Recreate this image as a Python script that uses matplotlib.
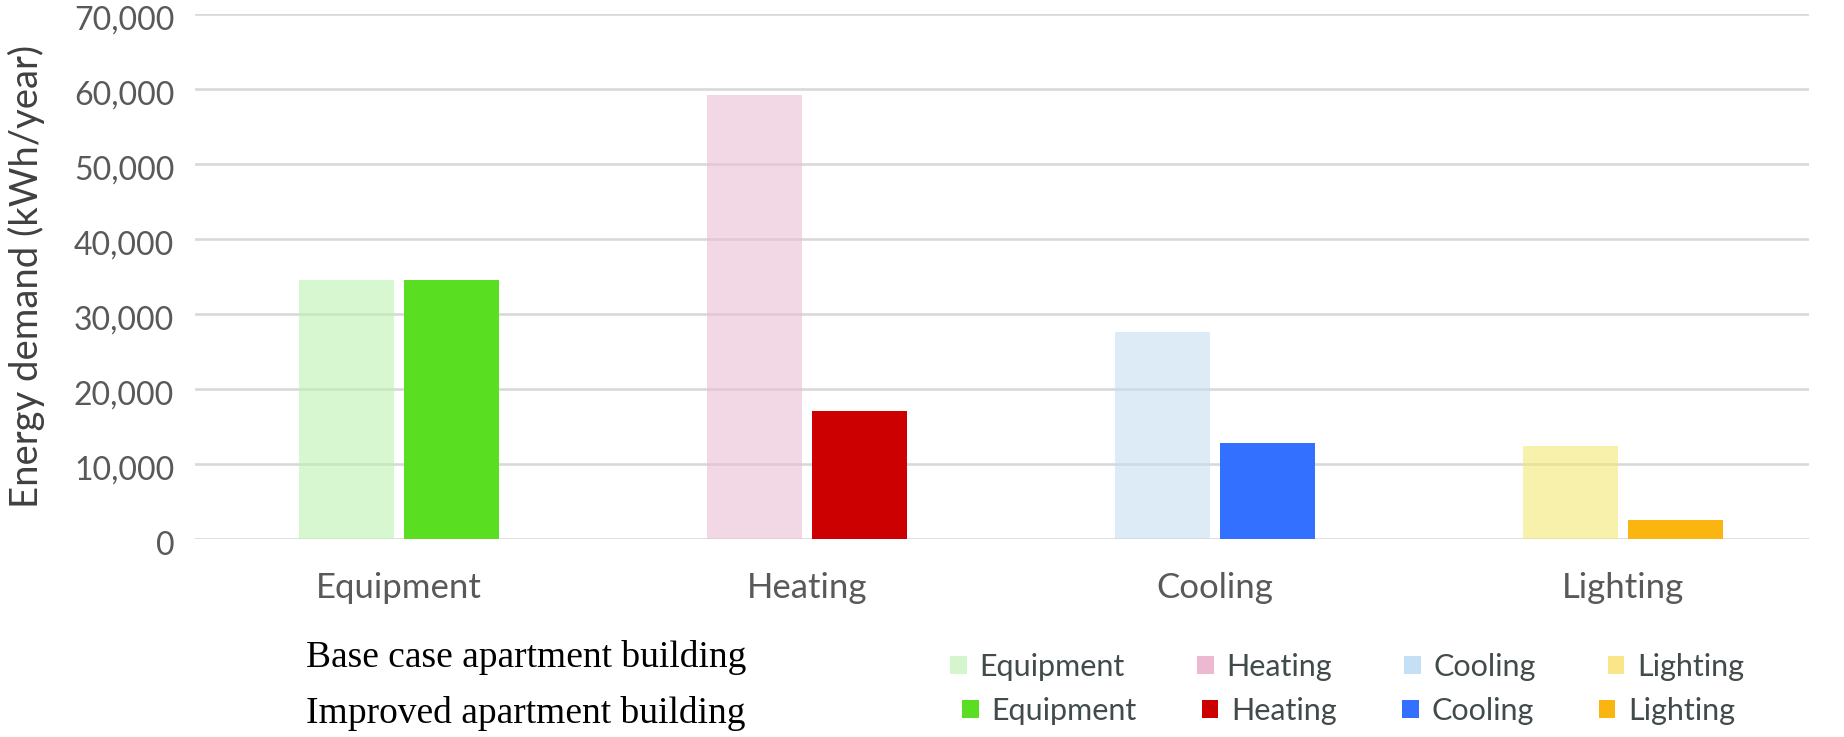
import numpy as np
import matplotlib
matplotlib.use("Agg")
import matplotlib.pyplot as plt
import matplotlib.transforms as mtransforms
from matplotlib.patches import Patch

# data
categories = ["Equipment", "Heating", "Cooling", "Lighting"]
base_case = [34600, 59200, 27600, 12400]
improved = [34600, 17100, 12800, 2550]
yticks = [0, 10000, 20000, 30000, 40000, 50000, 60000, 70000]

# styles
base_colors = ["#bbf2af", "#e9bed2", "#c6def0", "#f3e876"]
base_legend_colors = ["#d5f5cf", "#edb9d1", "#c5e0f5", "#f9e68a"]
improved_colors = ["#5ade22", "#cc0000", "#3370ff", "#fab511"]
tick_color = "#595959"

plt.rcParams["font.family"] = ["Lato", "DejaVu Sans"]

fig = plt.figure(figsize=(18.44, 7.37), dpi=100)
ax = fig.add_axes([195 / 1844, 1 - 539 / 737, (1809 - 195) / 1844, (539 - 14) / 737])

x = np.arange(len(categories))
w = 0.233
off = 0.128
ax.bar(x - off, base_case, w, color=base_colors, alpha=0.6, zorder=3)
ax.bar(x + off, improved, w, color=improved_colors, zorder=3)

ax.set_xlim(-0.5, 3.456)
ax.set_ylim(0, 70000)
ax.set_yticks(yticks)
ax.set_yticklabels([f"{v:,}" for v in yticks])
ax.set_xticks(x)
ax.set_xticklabels(categories)
ax.grid(axis="y", color="#d9d9d9", linewidth=1.9, zorder=1)
ax.set_axisbelow(True)
for s in ax.spines.values():
    s.set_visible(False)
ax.tick_params(axis="y", length=0, pad=15, labelsize=23, labelcolor=tick_color)
ax.tick_params(axis="x", length=0, pad=24, labelsize=25, labelcolor=tick_color)
# labels sit a little below their gridlines, like the original
shift = mtransforms.ScaledTranslation(0, -5 / 72, fig.dpi_scale_trans)
for lbl in ax.get_yticklabels():
    lbl.set_verticalalignment("center")
    lbl.set_transform(lbl.get_transform() + shift)
ax.set_ylabel("Energy demand (kWh/year)", fontsize=27.5, color="#404040")
ax.yaxis.set_label_coords(-0.093, 0.5)

# bottom series captions
fig.text(306 / 1844, 1 - 667 / 737, "Base case apartment building", family="Liberation Serif",
         fontsize=27, va="baseline", ha="left", color="black")
fig.text(306 / 1844, 1 - 723 / 737, "Improved apartment building", family="Liberation Serif",
         fontsize=27, va="baseline", ha="left", color="black")

# legends (fig.legend keeps both)
leg_kw = dict(ncol=4, loc="center left", frameon=False, borderpad=0, borderaxespad=0,
              handlelength=0.55, handleheight=0.55, handletextpad=0.42,
              fontsize=22, labelcolor="#424b4b")
h1 = [Patch(facecolor=c) for c in base_legend_colors]
h2 = [Patch(facecolor=c) for c in improved_colors]
fig.legend(h1, categories, bbox_to_anchor=(950 / 1844, 1 - 667 / 737),
           columnspacing=2.35, **leg_kw)
fig.legend(h2, categories, bbox_to_anchor=(962 / 1844, 1 - 711 / 737),
           columnspacing=2.12, **leg_kw)

fig.savefig("out.png", dpi=100)
